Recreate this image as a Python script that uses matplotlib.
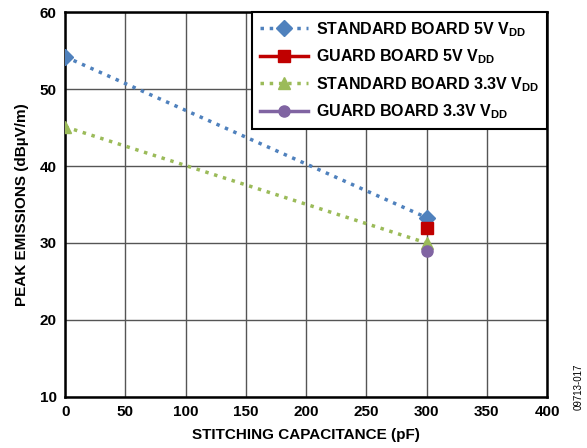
import matplotlib
matplotlib.use("Agg")
import matplotlib.pyplot as plt

plt.rcParams['font.family'] = ['Liberation Sans', 'DejaVu Sans']
plt.rcParams['font.weight'] = 'bold'
plt.rcParams['mathtext.fontset'] = 'custom'
plt.rcParams['mathtext.bf'] = 'Liberation Sans:bold'
plt.rcParams['mathtext.rm'] = 'Liberation Sans:bold'
plt.rcParams['mathtext.it'] = 'Liberation Sans:bold'

# data
cap_std = [0, 300]
std_5v = [54.2, 33.3]
std_33v = [45.1, 30.0]
cap_guard = [300]
guard_5v = [32.0]
guard_33v = [28.9]

fig = plt.figure(figsize=(5.87, 4.48), dpi=100)
ax = fig.add_axes([0.111, 0.114, 0.821, 0.859])

ax.plot(cap_std, std_5v, linestyle=':', color='#4f81bd', lw=2.5, marker='D', ms=8,
        label=r'STANDARD BOARD 5V V$_{\mathbf{DD}}$', zorder=3)
ax.plot(cap_guard, guard_5v, linestyle='-', color='#c00000', lw=2.5, marker='s', ms=8,
        label=r'GUARD BOARD 5V V$_{\mathbf{DD}}$', zorder=3)
ax.plot(cap_std, std_33v, linestyle=':', color='#9bbb59', lw=2.5, marker='^', ms=9,
        label=r'STANDARD BOARD 3.3V V$_{\mathbf{DD}}$', zorder=3)
ax.plot(cap_guard, guard_33v, linestyle='-', color='#8064a2', lw=2.5, marker='o', ms=8,
        label=r'GUARD BOARD 3.3V V$_{\mathbf{DD}}$', zorder=3)

ax.set_xlim(0, 400)
ax.set_ylim(10, 60)
ax.set_xticks(range(0, 401, 50))
ax.set_yticks(range(10, 61, 10))
ax.grid(True, color='#555555', lw=1)
ax.set_axisbelow(True)
for s in ax.spines.values():
    s.set_linewidth(1.8)
ax.tick_params(labelsize=11, length=0, pad=6)
ax.set_xlabel('STITCHING CAPACITANCE (pF)', fontsize=11, fontweight='bold', labelpad=6)
ax.set_ylabel('PEAK EMISSIONS (dBµV/m)', fontsize=11, fontweight='bold', labelpad=8)

leg = ax.legend(loc='upper right', fontsize=11.5, frameon=True, fancybox=False,
                edgecolor='black', framealpha=1, borderaxespad=0, handlelength=3.0,
                handletextpad=0.5, labelspacing=0.55, borderpad=0.5)
leg.get_frame().set_linewidth(1.5)

fig.text(0.985, 0.085, '09713-017', rotation=90, fontsize=7, fontweight='normal',
         ha='center', va='bottom')

fig.savefig('out.png', dpi=100)
